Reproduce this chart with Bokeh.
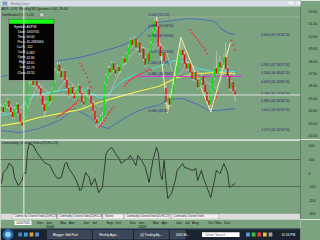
from bokeh.plotting import figure
from bokeh.models import Range1d, LinearAxis, FixedTicker, Span, ColumnDataSource, BoxAnnotation, Label
from bokeh.layouts import column
from bokeh.embed import file_html
from bokeh.resources import INLINE
from bokeh.core.properties import value

BG = "#7ca37f"
FONT = value("Liberation Sans")

# ---------------- data ----------------
weeks = list(range(126))
opens = [44.0, 44.3, 43.9, 44.5, 44.8, 44.3, 43.9, 43.5, 44.1, 44.5,
         43.8, 43.1, 42.80, 43.55, 44.4, 46.6, 46.4, 46.9, 46.1, 46.6,
         46.0, 45.8, 45.2, 44.5, 44.0, 44.6, 45.3, 44.8, 45.7, 46.5,
         47.2, 47.7, 47.2, 46.7, 47.2, 46.5, 45.8, 45.2, 45.9, 45.4,
         45.0, 45.6, 46.0, 45.4, 44.7, 44.5, 45.3, 45.7, 45.2, 44.6,
         44.0, 43.3, 43.0, 43.2, 43.5, 43.6, 46.2, 46.8, 47.4, 47.1,
         47.8, 47.3, 47.0, 47.5, 47.2, 47.8, 48.2, 47.9, 48.5, 49.1,
         49.7, 49.3, 49.8, 49.1, 49.5, 48.7, 49.0, 48.2, 47.7, 48.6,
         48.0, 49.4, 50.4, 51.2, 50.8, 49.2, 48.4, 48.7, 45.8, 44.7,
         45.0, 44.5, 45.3, 46.1, 46.8, 47.6, 48.4, 48.9, 48.5, 47.8,
         47.4, 47.8, 47.1, 46.6, 47.1, 46.5, 45.9, 46.5, 46.8, 46.1,
         45.5, 44.8, 44.5, 45.6, 46.7, 47.4, 47.0, 47.9, 47.5, 47.7,
         48.3, 47.4, 46.8, 45.8, 46.3, 45.6]
highs = [44.6, 44.5, 44.7, 45.0, 44.9, 44.5, 44.1, 44.3, 44.7, 44.6,
         44.0, 43.3, 43.61, 44.6, 46.8, 47.2, 47.1, 47.0, 46.8, 46.7,
         46.3, 46.0, 45.4, 44.8, 44.8, 45.5, 45.4, 45.9, 46.7, 47.4,
         48.0, 47.9, 47.4, 47.4, 47.3, 46.7, 46.0, 46.0, 46.1, 45.6,
         45.8, 46.2, 46.1, 45.5, 45.0, 45.4, 45.9, 45.8, 45.3, 44.8,
         44.2, 43.5, 43.4, 43.7, 43.9, 46.4, 47.0, 47.6, 47.6, 48.0,
         47.9, 47.4, 47.7, 47.6, 47.9, 48.4, 48.3, 48.7, 49.3, 49.9,
         49.8, 50.0, 49.9, 49.7, 49.6, 49.2, 49.1, 48.4, 48.8, 49.0,
         49.6, 50.6, 51.4, 51.55, 51.0, 49.4, 48.9, 48.8, 46.1, 45.3,
         45.4, 45.5, 46.3, 47.0, 47.8, 48.6, 49.91, 49.4, 48.8, 48.2,
         48.0, 47.9, 47.3, 47.3, 47.2, 46.6, 46.7, 47.0, 46.9, 46.2,
         45.6, 45.2, 45.8, 46.9, 47.6, 48.8, 48.1, 48.4, 48.0, 48.6,
         49.5, 47.6, 47.0, 46.5, 46.4, 45.9]
lows = [43.8, 43.7, 43.8, 44.2, 44.1, 43.7, 43.3, 43.4, 43.9, 43.6,
        42.9, 42.5, 42.79, 43.4, 44.3, 46.1, 46.2, 45.9, 45.9, 45.8,
        45.5, 45.0, 44.3, 43.5, 43.8, 44.4, 44.5, 44.7, 45.6, 46.3,
        47.0, 47.0, 46.5, 46.6, 46.3, 45.6, 45.0, 45.1, 45.2, 44.8,
        44.9, 45.3, 45.2, 44.5, 44.2, 44.4, 45.1, 45.0, 44.4, 43.8,
        43.1, 42.6, 42.7, 42.9, 43.1, 43.5, 46.0, 46.6, 46.9, 47.0,
        47.1, 46.8, 46.9, 47.0, 47.1, 47.6, 47.7, 47.8, 48.4, 49.0,
        49.1, 49.2, 48.9, 48.9, 48.5, 48.5, 48.0, 47.5, 47.6, 47.8,
        47.9, 49.3, 50.2, 50.6, 49.0, 48.2, 48.2, 47.8, 44.5, 43.81,
        44.3, 44.4, 45.2, 46.0, 46.6, 47.5, 48.2, 48.3, 47.6, 47.2,
        47.2, 46.9, 46.4, 46.4, 46.3, 45.7, 45.8, 46.2, 45.9, 45.3,
        44.6, 44.1, 43.91, 45.5, 46.5, 46.8, 46.9, 47.3, 46.9, 47.4,
        47.2, 46.6, 45.6, 45.6, 45.4, 44.7]
closes = [44.3, 43.9, 44.5, 44.8, 44.3, 43.9, 43.5, 44.1, 44.5, 43.8,
          43.1, 42.8, 43.55, 44.4, 46.6, 46.4, 46.9, 46.1, 46.6, 46.0,
          45.8, 45.2, 44.5, 44.0, 44.6, 45.3, 44.8, 45.7, 46.5, 47.2,
          47.7, 47.2, 46.7, 47.2, 46.5, 45.8, 45.2, 45.9, 45.4, 45.0,
          45.6, 46.0, 45.4, 44.7, 44.5, 45.3, 45.7, 45.2, 44.6, 44.0,
          43.3, 43.0, 43.2, 43.5, 43.6, 46.2, 46.8, 47.4, 47.1, 47.8,
          47.3, 47.0, 47.5, 47.2, 47.8, 48.2, 47.9, 48.5, 49.1, 49.7,
          49.3, 49.8, 49.1, 49.5, 48.7, 49.0, 48.2, 47.7, 48.6, 48.0,
          49.4, 50.4, 51.2, 50.8, 49.2, 48.4, 48.7, 48.0, 44.7, 45.0,
          44.5, 45.3, 46.1, 46.8, 47.6, 48.4, 48.9, 48.5, 47.8, 47.4,
          47.8, 47.1, 46.6, 47.1, 46.5, 45.9, 46.5, 46.8, 46.1, 45.5,
          44.8, 44.5, 45.6, 46.7, 47.4, 47.0, 47.9, 47.5, 47.7, 48.3,
          47.4, 46.8, 45.8, 46.3, 45.6, 45.27]

yellow_weeks = [0, 10, 20, 31, 42, 52, 63, 73, 84, 94, 105, 115, 125]
yellow_vals = [42.80, 43.04, 43.45, 43.77, 44.09, 44.66, 45.14, 45.55, 45.95, 46.67, 47.00, 47.08, 46.98]
cyan_weeks = [0, 7, 14, 18, 26, 34, 42, 47, 52, 56, 60, 65, 73, 78, 84, 92, 100, 105, 113, 125]
cyan_vals = [43.61, 43.85, 44.82, 45.30, 45.46, 45.71, 45.79, 45.55, 45.06, 45.14, 45.79, 46.43,
             46.99, 47.24, 47.56, 48.04, 47.88, 47.40, 47.16, 47.16]
gray_weeks = [0, 14, 17, 20, 25, 30, 35, 40, 46, 52, 56, 60, 65, 70, 75, 80, 84, 88, 92, 96,
              100, 105, 110, 115, 120, 125]
gray_vals = [44.3, 44.2, 45.3, 46.2, 45.5, 45.6, 46.6, 45.9, 45.3, 44.3, 44.6, 46.1, 47.5, 48.6,
             49.2, 48.7, 49.6, 48.9, 46.8, 47.0, 47.9, 47.2, 46.3, 45.8, 47.3, 46.9]
bb_up_weeks = [0, 10, 20, 31, 42, 52, 63, 68, 73, 78, 84, 92, 100, 107, 114, 118, 122, 125]
bb_up_vals = [46.75, 46.99, 47.56, 48.04, 48.29, 48.69, 49.17, 49.50, 49.90, 50.63, 51.11, 51.27,
              51.43, 51.35, 51.19, 50.54, 50.22, 50.14]
bb_lo_weeks = [0, 10, 20, 31, 39, 47, 52, 57, 63, 71, 78, 84, 89, 97, 105, 111, 115, 125]
bb_lo_vals = [42.40, 42.24, 42.56, 43.21, 44.17, 43.53, 42.80, 42.56, 43.13, 43.85, 44.25, 44.42,
              44.90, 44.98, 44.50, 44.01, 44.01, 44.17]
psar_weeks = [21, 22, 23, 24, 25, 26, 27,
              30, 31, 32, 33, 34, 35, 36, 37, 38, 39, 40, 41,
              42, 43, 44, 45, 46, 47, 48,
              52, 53, 54, 55, 56, 57, 58, 59, 60,
              66, 67, 68, 69, 70, 71, 72, 73, 74, 75, 76, 77, 78, 79, 80,
              101, 102, 103, 104, 105, 106, 107, 108, 109, 110,
              112, 113, 114, 115, 116,
              123, 124, 125]
psar_vals = [47.8, 47.6, 47.4, 47.2, 47.0, 46.8, 46.6,
             43.5, 43.6, 43.7, 43.8, 43.9, 44.0, 44.1, 44.2, 44.4, 44.5, 44.6, 44.8,
             47.8, 47.6, 47.3, 47.0, 46.7, 46.3, 45.9,
             42.7, 42.8, 43.0, 43.2, 43.4, 43.7, 43.9, 44.1, 44.3,
             46.0, 46.2, 46.4, 46.5, 46.6, 46.7, 46.8, 46.9, 47.0, 47.0, 47.1, 47.2, 47.2, 47.3, 47.3,
             50.5, 50.3, 50.1, 49.9, 49.7, 49.5, 49.3, 49.1, 48.9, 48.6,
             44.25, 44.5, 44.8, 45.1, 45.4,
             49.66, 49.3, 48.9]
zz_weeks = [83, 89, 96, 112, 122.5]
zz_vals = [51.55, 43.81, 49.91, 43.91, 49.5]

fib_left_labels = ["1.000 (51.55)", "0.886 (50.6676)", "0.786 (49.8936)", "0.618 (48.5933)",
                   "0.500 (47.68)", "0.382 (46.7667)", "0.000 (43.81)"]
fib_left_prices = [51.55, 50.6676, 49.8936, 48.5933, 47.68, 46.7667, 43.81]
fib_right_labels = ["0.000 (49.9135/74)", "0.382 (47.5617/74)", "0.500 (46.8642/74)", "0.618 (46.1669/74)",
                    "0.786 (45.1749/74)", "0.886 (44.5830/74)", "1.000 (43.9095/74)", "1.270 (42.3150/74)"]
fib_right_prices = [49.9135, 47.5617, 46.8642, 46.1669, 45.1749, 44.5830, 43.9095, 42.3150]

cci_weeks = [0, 1, 3, 4, 6, 7, 9, 11, 12, 13, 14, 15, 17, 19, 21, 23, 26, 28, 30, 32,
             34, 35, 36, 38, 40, 42, 43, 45, 47, 48, 50, 52, 54, 56, 57, 59, 61, 63, 64, 66,
             68, 69, 72, 73, 75, 77, 79, 81, 83, 84, 85, 86, 87, 88, 89, 91, 93, 94, 97, 98,
             100, 102, 104, 105, 107, 108, 110, 112, 114, 115, 117, 119, 121, 122, 125]
cci_vals = [-78, 4, 33, 70, 48, -33, -92, -55, 4, -4, 167, 218, 204, 152, 115, 78, 56, -4, -41, -33,
            70, 78, 33, -4, -55, -130, -115, 4, -33, -92, -41, -144, -107, 144, 167, 189, 144, 107, 70, 93,
            107, 130, 56, 130, 93, 41, -70, 93, 189, 144, -4, -48, 93, -55, -189, -152, -55, 19, 70, 41,
            33, 19, 33, -55, 19, -33, -107, -181, -55, 19, -4, 70, 4, -107, -78]

price_ticks = [42, 43, 44, 45, 46, 47, 48, 49, 50, 51, 52]
price_tick_labels = ["42.00", "43.00", "44.00", "45.00", "46.00", "47.00", "48.00", "49.00", "50.00", "51.00", "52.00"]
cci_ticks = [200, 100, 0, -100, -200, -300]
cci_tick_labels = ["200", "100", "0", "-100", "-200", "-300"]
date_weeks = [20, 25, 33, 38, 46, 51, 59, 64, 72, 77, 85, 90, 98, 103, 107, 116, 120, 125]
date_labels = ["Dec", "Jan", "Mar", "Apr", "Jun", "Jul", "Sep", "Oct", "Dec", "Jan",
               "Mar", "Apr", "Jun", "Jul", "Aug", "Oct", "Nov", "Dec"]
year_weeks = [25, 77]
year_labels = ["2006", "2007"]
cursor_week = 12
cursor_price = 45.268
last_price_text = "45.27"
bid_price_text = "45.00"
last_cci_text = "-77.8"

tip_names = ["Symbol:", "Date:", "Time:", "Price:", "Cur%:", "Cur$:", "Open", "High", "Low", "Close"]
tip_values = ["ADP.W", "10/07/05", "00:00", "45.2681666", ".112", "6.463", "42.80", "43.61", "42.79", "43.55"]


def base_fig(h, xr, yr, right=0):
    f = figure(width=320, height=h, x_range=xr, y_range=yr, output_backend="svg",
               toolbar_location=None, x_axis_location=None, y_axis_location=None,
               min_border_left=0, min_border_right=right, min_border_top=0, min_border_bottom=0,
               background_fill_color=BG, border_fill_color=BG, outline_line_color=None)
    f.grid.visible = False
    return f


def txt(f, x, y, t, size="3.5px", color="#000000", align="left", baseline="middle", **kw):
    f.text(x=x, y=y, text=t, text_font=FONT, text_font_size=size, text_color=color,
           text_align=align, text_baseline=baseline, **kw)


# ---------------- price panel (with window title bar on top) ----------------
xr = Range1d(-0.5, 160)
p = base_fig(139, xr, Range1d(41.68, 52.88), right=15)
p.extra_x_ranges = {"px": Range1d(0, 305)}
p.extra_y_ranges = {"py": Range1d(139, 0)}

ax = LinearAxis(ticker=FixedTicker(ticks=price_ticks),
                major_label_overrides={t: l for t, l in zip(price_ticks, price_tick_labels)})
ax.axis_line_color = "#5f8062"
ax.major_tick_line_color = None
ax.minor_tick_line_color = None
ax.major_label_text_font_size = "3.5px"
ax.major_label_text_font = "Liberation Sans"
ax.major_label_text_color = "#202020"
ax.major_label_standoff = 2
p.add_layout(ax, "right")

p.line(bb_up_weeks, bb_up_vals, line_color="#3f5fc8", line_width=0.8)
p.line(bb_lo_weeks, bb_lo_vals, line_color="#3f5fc8", line_width=0.8)
p.line(yellow_weeks, yellow_vals, line_color="#f2f24a", line_width=1.2)
p.line(gray_weeks, gray_vals, line_color="#bcc6bc", line_width=0.7)
p.line(cyan_weeks, cyan_vals, line_color="#46e6e6", line_width=1.0)
p.scatter(psar_weeks, psar_vals, size=1.3, color="#e04848", marker="circle")

p.segment(x0=[140], x1=[245], y0=[fib_left_prices[5]], y1=[fib_left_prices[5]],
          x_range_name="px", line_color="#d040d0", line_width=1.2)
p.segment(x0=[150], x1=[305], y0=[fib_left_prices[0]], y1=[fib_left_prices[0]],
          x_range_name="px", line_color="#a8b8a8", line_width=0.6)
p.segment(x0=[255] * len(fib_right_prices), x1=[265] * len(fib_right_prices),
          y0=fib_right_prices, y1=fib_right_prices, x_range_name="px", line_color="#8a8a9a", line_width=0.6)

p.line(zz_weeks, zz_vals, line_color="#f4f0a0", line_width=1.0)

src = ColumnDataSource(dict(
    w=weeks, o=opens, h=highs, l=lows, c=closes,
    top=[max(a, b) for a, b in zip(opens, closes)],
    bot=[min(a, b) for a, b in zip(opens, closes)],
    col=["#10e010" if c >= o else "#e01010" for o, c in zip(opens, closes)],
))
p.segment(x0="w", x1="w", y0="l", y1="h", source=src, line_color="#d8d8d8", line_width=0.6)
p.vbar(x="w", top="top", bottom="bot", width=0.7, source=src, fill_color="col", line_color="col", line_width=0.3)

txt(p, [150] * len(fib_left_labels), fib_left_prices, fib_left_labels, size="3.6px",
    color="#24246e", baseline="bottom", x_range_name="px")
txt(p, [265] * len(fib_right_labels), fib_right_prices, fib_right_labels, size="3.4px",
    color="#24246e", baseline="bottom", x_range_name="px")

p.add_layout(Span(location=cursor_week, dimension="height", line_color="#e8ece8", line_width=1))
p.add_layout(Span(location=cursor_price, dimension="width", line_color="#dfe5df", line_width=1))

# chart header
txt(p, [1], [8.8], ["ADP - U.S.  Weekly(W)  Dynamic 0.00 -29.00"], size="3.4px", color="#1a1a1a",
    x_range_name="px", y_range_name="py")
txt(p, [1], [14.4], ["TopWoodie(CCI 1,20)"], size="3.4px", color="#1a1a1a",
    x_range_name="px", y_range_name="py")
p.quad(left=[40], right=[44], top=[12.5], bottom=[16.3], x_range_name="px", y_range_name="py",
       fill_color="#d0d0d0", line_color="#606060", line_width=0.4)

# tooltip
p.quad(left=[8], right=[55], top=[18], bottom=[80], x_range_name="px", y_range_name="py",
       fill_color="#050505", line_color="#a0a0a0", line_width=0.8)
p.quad(left=[8.8], right=[54.2], top=[18.8], bottom=[23.2], x_range_name="px", y_range_name="py",
       fill_color="#19ff19", line_color=None)
tip_y = [25.9 + 5.1 * k for k in range(len(tip_names))]
txt(p, [25.5] * len(tip_names), tip_y, tip_names, size="3.2px", color="#ffffff", align="right",
    x_range_name="px", y_range_name="py")
txt(p, [26.5] * len(tip_values), tip_y, tip_values, size="3.2px", color="#ffffff",
    x_range_name="px", y_range_name="py")

# last-price boxes on the price scale
p.add_layout(BoxAnnotation(left=305.5, right=319.5, top=cursor_price + 0.2, bottom=cursor_price - 0.2,
                           fill_color="#ffffff", fill_alpha=1, line_color=None, level="overlay"))
p.add_layout(Label(x=312.5, y=cursor_price, text=last_price_text, text_font_size="3.4px",
                   text_font="Liberation Sans", text_color="#000000", text_align="center",
                   text_baseline="middle", x_range_name="px"))
p.add_layout(BoxAnnotation(left=305.5, right=318, top=45.05, bottom=44.72,
                           fill_color="#e02020", fill_alpha=1, line_color=None, level="overlay"))
p.add_layout(Label(x=311.8, y=44.885, text=bid_price_text, text_font_size="3.2px",
                   text_font="Liberation Sans", text_color="#ffe0e0", text_align="center",
                   text_baseline="middle", x_range_name="px"))

# window title bar (drawn over the top 6 px, across the full width)
p.add_layout(BoxAnnotation(left=0, right=321, top=0, bottom=6, x_range_name="px", y_range_name="py",
                           fill_color="#d6dde5", fill_alpha=1, line_color=None, level="overlay"))
p.add_layout(BoxAnnotation(left=2, right=7, top=0.9, bottom=4.9, x_range_name="px", y_range_name="py",
                           fill_color="#7f9fbf", fill_alpha=1, line_color=None, level="overlay"))
for bl, br in [(292, 299), (300, 307), (308, 318)]:
    p.add_layout(BoxAnnotation(left=bl, right=br, top=0.4, bottom=4.7, x_range_name="px", y_range_name="py",
                               fill_color="#e8ecf0", fill_alpha=1, line_color="#9aa6b2", line_width=0.5,
                               level="overlay"))
p.add_layout(Label(x=10, y=3.0, text="Weekly Chart", text_font_size="3.1px", text_font="Liberation Sans",
                   text_color="#707070", text_baseline="middle", x_range_name="px", y_range_name="py",
                   level="overlay"))

# ---------------- CCI panel ----------------
c = base_fig(80, xr, Range1d(-344, 248), right=15)
c.extra_x_ranges = {"px": Range1d(0, 305)}
c.extra_y_ranges = {"py": Range1d(219, 139)}
cax = LinearAxis(ticker=FixedTicker(ticks=cci_ticks),
                 major_label_overrides={t: l for t, l in zip(cci_ticks, cci_tick_labels)})
cax.axis_line_color = "#5f8062"
cax.major_tick_line_color = None
cax.minor_tick_line_color = None
cax.major_label_text_font_size = "3.5px"
cax.major_label_text_font = "Liberation Sans"
cax.major_label_text_color = "#202020"
cax.major_label_standoff = 2
c.add_layout(cax, "right")

c.add_layout(Span(location=100, dimension="width", line_color="#4a5c4a", line_width=0.8))
c.add_layout(Span(location=-100, dimension="width", line_color="#4a5c4a", line_width=0.8))
c.add_layout(Span(location=cursor_week, dimension="height", line_color="#e8ece8", line_width=1))
c.line(cci_weeks, cci_vals, line_color="#111111", line_width=0.7)
c.quad(left=[0], right=[305], top=[139], bottom=[140.4], x_range_name="px", y_range_name="py",
       fill_color="#d8e0d8", line_color=None)
txt(c, [1], [142.3], ["Commodity Channel Index(20,HLC/3)"], size="3.4px", color="#1a1a1a",
    x_range_name="px", y_range_name="py")
c.add_layout(BoxAnnotation(left=305.5, right=318.5, top=cci_vals[-1] + 16, bottom=cci_vals[-1] - 16,
                           fill_color="#000000", fill_alpha=1, line_color=None, level="overlay"))
c.add_layout(Label(x=312, y=cci_vals[-1], text=last_cci_text, text_font_size="3.3px",
                   text_font="Liberation Sans", text_color="#ffffff", text_align="center",
                   text_baseline="middle", x_range_name="px"))
# tab strip
c.quad(left=[0], right=[305], top=[213.3], bottom=[219], x_range_name="px", y_range_name="py",
       fill_color="#dcdcdc", line_color=None)
tab_names = ["Commodity Channel Index(20,HLC/3)", "Commodity Channel Index(20,HLC/3)",
             "Volume", "Commodity Channel Index(20,HLC/3)", "Commodity Channel Index"]
tab_x = [14, 60, 106, 128, 176]
c.quad(left=[12, 58, 104, 126, 174], right=[57, 103, 125, 173, 222], top=[213.6] * 5, bottom=[218.6] * 5,
       x_range_name="px", y_range_name="py", fill_color="#f0f0f0", line_color="#909090", line_width=0.4)
txt(c, tab_x, [216.2] * 5, tab_names, size="2.6px", color="#303030", x_range_name="px", y_range_name="py")

# ---------------- bottom strip: dates + taskbar ----------------
b = figure(width=320, height=21, x_range=Range1d(0, 320), y_range=Range1d(21, 0), output_backend="svg",
           toolbar_location=None, x_axis_location=None, y_axis_location=None,
           min_border_left=0, min_border_right=0, min_border_top=0, min_border_bottom=0,
           background_fill_color=BG, border_fill_color=BG, outline_line_color=None)
b.grid.visible = False
b.extra_x_ranges = {"wk": Range1d(-0.5, -0.5 + 320 * 160.5 / 305)}
txt(b, date_weeks, [3.2] * len(date_weeks), date_labels, size="3.6px", color="#101010", x_range_name="wk")
txt(b, year_weeks, [7.0] * len(year_weeks), year_labels, size="3.6px", color="#101010", x_range_name="wk")
b.quad(left=[15], right=[33], top=[1.0], bottom=[5.4], fill_color="#ffffff", line_color=None)
txt(b, [24], [3.2], ["10/07/05"], size="3.6px", color="#101010", align="center")

b.quad(left=[0], right=[320], top=[9], bottom=[21], fill_color="#1b2330", line_color=None)
b.quad(left=[0], right=[320], top=[9], bottom=[9.7], fill_color="#4a5a70", line_color=None)
b.scatter(x=[8], y=[15], size=10, color="#2d6fb0", marker="circle")
b.scatter(x=[8], y=[15], size=5, color="#8fd0f0", marker="circle")
b.quad(left=[19, 25, 31, 37], right=[23, 29, 35, 41], top=[13] * 4, bottom=[17] * 4,
       fill_color=["#4a80c0", "#3aa0e0", "#e0a030", "#6090d0"], line_color=None)
btn_left = [50, 99, 143, 181]
btn_right = [97, 141, 179, 197]
btn_text = ["Blogger: Edit Post", "Weekly Appr...", "(4) Trading Ap...", "2005 Mi..."]
b.quad(left=btn_left, right=btn_right, top=[11] * 4, bottom=[19.5] * 4,
       fill_color="#3a4658", line_color="#56637a", line_width=0.4)
txt(b, [x + 6 for x in btn_left], [15.2] * 4, btn_text, size="3.1px", color="#ffffff")
b.quad(left=[215], right=[255], top=[12.8], bottom=[17.6], fill_color="#ffffff", line_color=None)
txt(b, [218], [15.2], ["Yahoo! Search"], size="3.1px", color="#606060")
b.quad(left=[262, 268, 274, 280, 286], right=[266, 272, 278, 284, 290], top=[13] * 5, bottom=[17] * 5,
       fill_color=["#50a0e0", "#40c040", "#e04040", "#e0c040", "#a0a0a0"], line_color=None)
txt(b, [307], [15.2], ["11:54 PM"], size="3.3px", color="#ffffff", align="center")

layout = column(p, c, b)
open("out.html", "w").write(file_html(layout, INLINE))
